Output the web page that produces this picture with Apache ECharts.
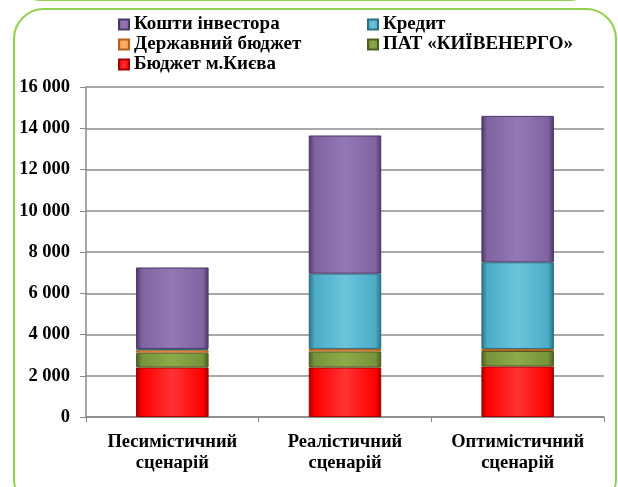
<!DOCTYPE html>
<html><head><meta charset="utf-8">
<script src="https://cdn.jsdelivr.net/npm/echarts@6/dist/echarts.min.js"></script>
<style>html,body{margin:0;padding:0;background:#fff}#c{width:618px;height:487px}</style>
</head><body><div id="c"></div>
<script>
const categories = ['Песимістичний\nсценарій', 'Реалістичний\nсценарій', 'Оптимістичний\nсценарій'];
const budgetKyiv = [2400, 2400, 2450];
const kyivenergo = [720, 780, 750];
const stateBudget = [120, 120, 100];
const credit = [60, 3650, 4200];
const investor = [3950, 6700, 7100];
const yTicks = { min: 0, max: 16000, interval: 2000 };

const FONT = '"Liberation Serif", "Times New Roman", serif';
function grad(light, base, dark) {
  return new echarts.graphic.LinearGradient(0, 0, 1, 0, [
    { offset: 0, color: dark }, { offset: 0.08, color: base },
    { offset: 0.5, color: light }, { offset: 0.92, color: base }, { offset: 1, color: dark }
  ]);
}
function ser(name, data, light, base, dark) {
  return {
    name, type: 'bar', stack: 's', data, barWidth: '42%',
    itemStyle: { color: grad(light, base, dark), borderColor: dark, borderWidth: 1 },
    emphasis: { disabled: true }
  };
}
const chart = echarts.init(document.getElementById('c'));
const legendText = { fontFamily: FONT, fontWeight: 'bold', fontSize: 19, color: '#000' };
chart.setOption({
  animation: false,
  graphic: [
    { type: 'rect', shape: { x: 14, y: 9, width: 602, height: 500, r: 30 },
      style: { fill: 'none', stroke: '#92D050', lineWidth: 2 }, z: -1 },
    { type: 'rect', shape: { x: 20, y: -60, width: 570, height: 60, r: 20 },
      style: { fill: 'none', stroke: '#92D050', lineWidth: 2 }, z: -1 }
  ],
  legend: [
    { left: 113, top: 10, orient: 'vertical', itemGap: 1, itemWidth: 10, itemHeight: 10,
      icon: 'rect', textStyle: legendText,
      data: ['Кошти інвестора', 'Державний бюджет', 'Бюджет м.Києва'] },
    { left: 362, top: 10, orient: 'vertical', itemGap: 1, itemWidth: 10, itemHeight: 10,
      icon: 'rect', textStyle: legendText,
      data: ['Кредит', 'ПАТ «КИЇВЕНЕРГО»'] }
  ],
  grid: { left: 86, right: 14, top: 87, bottom: 70, containLabel: false },
  xAxis: {
    type: 'category', data: categories,
    axisLine: { lineStyle: { color: '#888', width: 1.5 } },
    axisTick: { show: true, length: 5, lineStyle: { color: '#888' } },
    axisLabel: { interval: 0, fontFamily: FONT, fontWeight: 'bold', fontSize: 18.5, color: '#000', margin: 15, lineHeight: 21 }
  },
  yAxis: {
    type: 'value', min: yTicks.min, max: yTicks.max, interval: yTicks.interval,
    axisLine: { show: true, lineStyle: { color: '#888', width: 1.5 } },
    axisTick: { show: true, length: 6, lineStyle: { color: '#888' } },
    splitLine: { lineStyle: { color: '#8c8c8c', width: 1.5 } },
    axisLabel: { fontFamily: FONT, fontWeight: 'bold', fontSize: 18.5, color: '#000', margin: 16,
      formatter: v => String(v).replace(/\B(?=(\d{3})+(?!\d))/g, ' ') }
  },
  series: [
    ser('Бюджет м.Києва', budgetKyiv, '#FF3333', '#FF0000', '#A00000'),
    ser('ПАТ «КИЇВЕНЕРГО»', kyivenergo, '#8DAA48', '#77933C', '#4A5E22'),
    ser('Державний бюджет', stateBudget, '#FFB070', '#F79646', '#B5601A'),
    ser('Кредит', credit, '#6CC4DC', '#4BACC6', '#2A6F82'),
    ser('Кошти інвестора', investor, '#9278B4', '#8064A2', '#4B3866')
  ]
});
</script></body></html>
